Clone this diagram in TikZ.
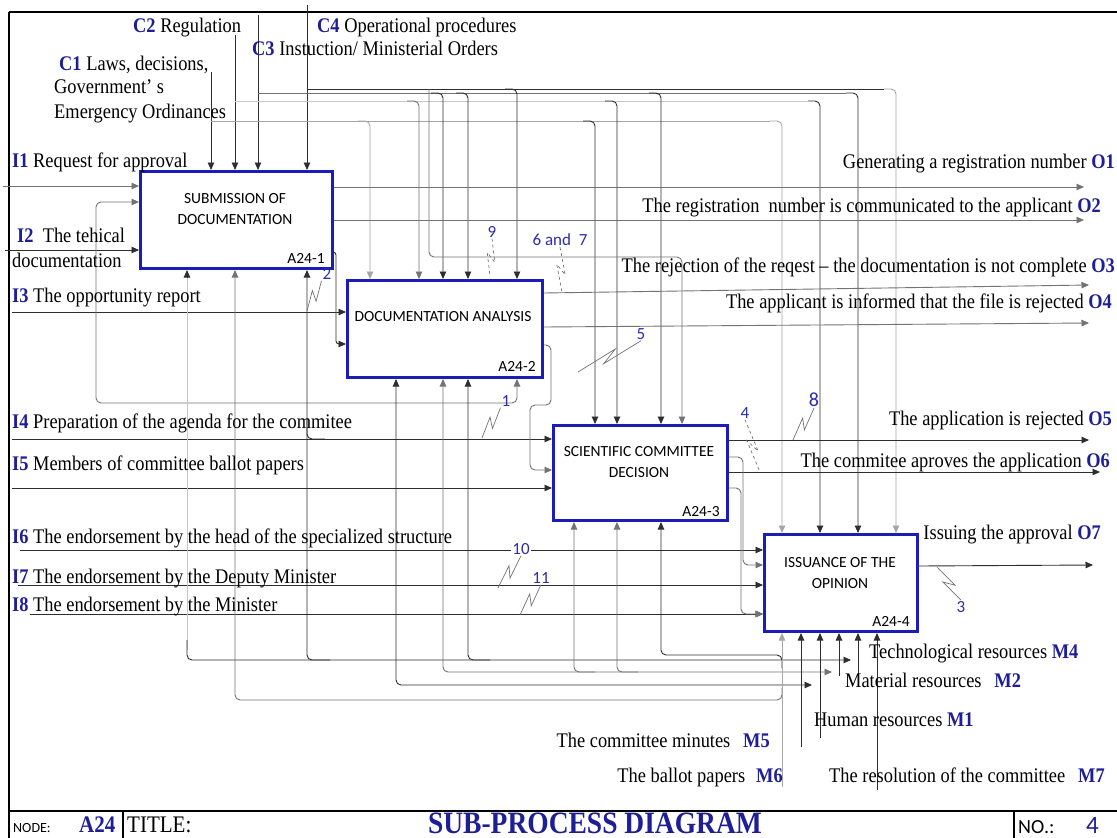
\documentclass[tikz,border=0pt]{standalone}
\usepackage{graphicx}
\usepackage{fontspec}
\setmainfont{Liberation Serif}
\newfontfamily\carl{Carlito}
\usetikzlibrary{arrows.meta,calc}
\definecolor{idefblue}{RGB}{30,30,150}
\definecolor{boxblue}{RGB}{28,28,185}
\definecolor{numblue}{RGB}{45,45,170}
\newcommand{\bl}[1]{\textbf{\textcolor{idefblue}{#1}}}
\newcommand{\tx}[1]{\scalebox{1}[1.13]{#1}}
\newcommand{\zig}[3][]{\draw[sq,#1] (#2) -- ($(#2)!0.62!(#3)!4pt!90:(#3)$) -- ($(#2)!0.38!(#3)!4pt!-90:(#3)$) -- (#3);}
\begin{document}
\begin{tikzpicture}[x=1pt,y=-1pt,
  >={Triangle[length=7.5pt,width=6.5pt]},
  conn/.style={draw=black!82,line width=0.9pt},
  mid/.style={draw=black!55,line width=0.9pt},
  faint/.style={draw=black!35,line width=0.9pt},
  vfaint/.style={draw=black!22,line width=0.9pt},
  rc/.style={rounded corners=5pt},
  box/.style={draw=boxblue,line width=3pt,fill=white,anchor=north west,inner sep=0pt},
  bt/.style={font=\carl\fontsize{15.5}{20.5}\selectfont,align=center,inner sep=0pt},
  lab/.style={font=\fontsize{18.4}{22}\selectfont,inner sep=0pt,anchor=base west},
  labE/.style={lab,anchor=base east},
  num/.style={font=\carl\fontsize{17}{19}\selectfont,text=numblue,inner sep=1pt},
  sq/.style={draw=black!55,line width=0.7pt},
  frame/.style={draw=black,line width=1.2pt}]
\useasboundingbox (0,0) rectangle (1117,838);
\fill[white] (0,0) rectangle (1117,838);
% frame
\draw[frame] (9,12) -- (1117,12);
\draw[frame] (9,12) -- (9,838);
\draw[frame] (9,811) -- (1117,811);
\draw[frame] (123,811) -- (123,838);
\draw[frame] (1014,811) -- (1014,838);

% boxes
\node[box,minimum width=192pt,minimum height=97pt] (b1) at (139,170) {};
\node[box,minimum width=195pt,minimum height=97pt] (b2) at (346,279) {};
\node[box,minimum width=174pt,minimum height=95pt] (b3) at (552,424) {};
\node[box,minimum width=153pt,minimum height=97pt] (b4) at (763,533) {};
\node[bt] (t1) at (235,209) {SUBMISSION OF\\DOCUMENTATION};
\node[bt] (t2) at (443,317) {DOCUMENTATION ANALYSIS};
\node[bt] (t3) at (639,462) {SCIENTIFIC COMMITTEE\\DECISION};
\node[bt] (t4) at (840,573) {ISSUANCE OF THE\\OPINION};
\node[bt] (a1) at (306,258) {A24-1};
\node[bt] (a2) at (517,366) {A24-2};
\node[bt] (a3) at (701,512) {A24-3};
\node[bt] (a4) at (891,621) {A24-4};

% controls
\draw[conn,->] (211,72) -- (b1.north -| 211,0);
\draw[conn,->] (235,35) -- (b1.north -| 235,0);
\draw[conn,->] (258,15) -- (b1.north -| 258,0);
\draw[conn,->] (307,5) -- (b1.north -| 307,0);
\draw[faint] (211,121) -- (770,121);
\draw[vfaint] (235,101) -- (808,101);
\draw[mid] (258,93) -- (846,93);
\draw[conn] (307,89) -- (884,89);
\draw[faint,->,rc] (358,121) -| (b2.north -| 370,0);
\draw[conn,->,rc] (583,121) -| (b3.north -| 595,0);
\draw[faint,->,rc] (770,121) -| (b4.north -| 782,0);
\draw[mid,->,rc] (407,101) -| (b2.north -| 419,0);
\draw[conn,->,rc] (605,101) -| (b3.north -| 617,0);
\draw[conn,->,rc] (808,101) -| (b4.north -| 820,0);
\draw[conn,->,rc] (431,93) -| (b2.north -| 443,0);
\draw[conn,->,rc] (456,93) -| (b2.north -| 468,0);
\draw[conn,->,rc] (649,93) -| (b3.north -| 661,0);
\draw[conn,->,rc] (846,93) -| (b4.north -| 858,0);
\draw[conn,->,rc] (505,89) -| (b2.north -| 517,0);
\draw[faint,->,rc] (884,89) -| (b4.north -| 896,0);
\draw[mid,->,rc] (429,89) -- (429,257) -| (b3.north -| 682,0);

% inputs
\draw[mid,->] (3,186) -- (b1.west |- 0,186);
\draw[conn,->] (5,250) -- (b1.west |- 0,250);
\draw[conn,->] (12,312) -- (b2.west |- 0,312);
\draw[conn,->] (12,439) -- (b3.west |- 0,439);
\draw[conn,->] (12,488) -- (b3.west |- 0,488);
\draw[conn,->] (20,550) -- (b4.west |- 0,550);
\draw[conn,->] (18,585) -- (b4.west |- 0,585);
\draw[conn,->] (30,614) -- (b4.west |- 0,614);
\draw[mid,<->,rc] (b1.west |- 0,202) -| (96,403) -| (b2.south -| 517,0);
\draw[conn,rc] (307,420) |- (325,439);

% outputs
\draw[mid,->] (b1.east |- 0,187) -- (1084,187);
\draw[mid,->] (b1.east |- 0,220) -- (1084,220);
\draw[conn,->,rounded corners=3pt] (b1.east |- 0,252) -| (336,330) |- (b2.west |- 0,344);
\draw[mid,->] (b2.east |- 0,293) -- (1089,285);
\draw[mid,->] (b2.east |- 0,327) -- (1089,323);
\draw[mid,->,rc] (b2.east |- 0,345) -| (551,405) -| (530,440) |- (b3.west |- 0,470);
\draw[conn,->] (b3.east |- 0,440) -- (1089,440);
\draw[conn,->] (b3.east |- 0,472) -- (1100,472);
\draw[mid,->,rc] (b3.east |- 0,457) -| (743,530) |- (b4.west |- 0,565);
\draw[mid,->,rc] (b3.east |- 0,488) -| (741,580) |- (b4.west |- 0,614);
\draw[conn,->] (b4.east |- 0,566) -- (1093,565);

% mechanisms
\draw[vfaint] (187,275) -- (187,650);
\draw[conn,<-] (b1.south -| 187,0) -- (187,278);
\draw[conn,->,rc] (187,640) |- (851,660);
\draw[conn,<-,rc] (b1.south -| 307,0) |- (330,660);
\draw[conn,<-,rc] (b2.south -| 468,0) |- (490,660);
\draw[mid,<->,rc] (b2.south -| 443,0) |- (832,672);
\draw[mid,<-,rc] (b3.south -| 574,0) |- (595,672);
\draw[mid,<-,rc] (b3.south -| 617,0) |- (638,672);
\draw[conn,<->,rc] (b2.south -| 396,0) |- (812,685);
\draw[mid,<-,rc] (b1.south -| 235,0) |- (782,700) -- (782,688);
\draw[conn,<-,rc] (b3.south -| 661,0) |- (782,655) -- (782,668);
\draw[faint,<-] (b4.south -| 782,0) -- (782,787);
\draw[conn,<-] (b4.south -| 801,0) -- (801,747);
\draw[conn,<-] (b4.south -| 820,0) -- (820,738);
\draw[conn,<-] (b4.south -| 839,0) -- (839,676);
\draw[conn,<-] (b4.south -| 858,0) -- (858,680);
\draw[conn,<-] (b4.south -| 877,0) -- (877,790);

% texts
\node[lab] (c2) at (133,32) {\tx{\bl{C2} Regulation}};
\node[lab] (c4) at (317,32) {\tx{\bl{C4} Operational procedures}};
\node[lab] (c3) at (252,55) {\tx{\bl{C3} Instuction/ Ministerial Orders}};
\node[lab] (c1a) at (59,70) {\tx{\bl{C1} Laws, decisions,}};
\node[lab] (c1b) at (54,93) {\tx{Government' s}};
\node[lab] (c1c) at (54,118) {\tx{Emergency Ordinances}};
\node[lab] (i1) at (12,167) {\tx{\bl{I1} Request for approval}};
\node[lab] (i2a) at (17,242) {\tx{\bl{I2}\ \ The tehical}};
\node[lab] (i2b) at (12,267) {\tx{documentation}};
\node[lab] (i3) at (12,302) {\tx{\bl{I3} The opportunity report}};
\node[lab] (i4) at (12,428) {\tx{\bl{I4} Preparation of the agenda for the commitee}};
\node[lab] (i5) at (12,470) {\tx{\bl{I5} Members of committee ballot papers}};
\node[lab] (i6) at (12,543) {\tx{\bl{I6} The endorsement by the head of the specialized structure}};
\node[lab] (i7) at (12,583) {\tx{\bl{I7} The endorsement by the Deputy Minister}};
\node[lab] (i8) at (12,611) {\tx{\bl{I8} The endorsement by the Minister}};
\node[labE] (o1) at (1115,168) {\tx{Generating a registration number \bl{O1}}};
\node[labE] (o2) at (1101,212) {\tx{The registration\ \ number is communicated to the applicant \bl{O2}}};
\node[labE] (o3) at (1115,272) {\tx{The rejection of the reqest – the documentation is not complete \bl{O3}}};
\node[labE] (o4) at (1112,308) {\tx{The applicant is informed that the file is rejected \bl{O4}}};
\node[labE] (o5) at (1112,425) {\tx{The application is rejected \bl{O5}}};
\node[labE] (o6) at (1110,467) {\tx{The commitee aproves the application \bl{O6}}};
\node[labE] (o7) at (1101,539) {\tx{Issuing the approval \bl{O7}}};
\node[lab] (m4) at (869,658) {\tx{Technological resources \bl{M4}}};
\node[lab] (m2) at (845,687) {\tx{Material resources\hspace{0.7em}\bl{M2}}};
\node[lab] (m1) at (814,726) {\tx{Human resources \bl{M1}}};
\node[labE] (m5) at (770,747) {\tx{The committee minutes\hspace{0.7em}\bl{M5}}};
\node[labE] (m6) at (783,782) {\tx{The ballot papers\hspace{0.6em}\bl{M6}}};
\node[lab] (m7) at (829,782) {\tx{The resolution of the committee\hspace{0.7em}\bl{M7}}};

% numbers and squiggles
\node[num] (n9) at (492,232) {9};
\node[num] (n67) at (560,240) {6 and\ \ 7};
\node[num] (n2) at (327,274) {2};
\node[num] (n1) at (506,401) {1};
\node[num] (n5) at (641,334) {5};
\node[num] (n4) at (745,413) {4};
\node[num,font=\carl\fontsize{20}{21}\selectfont] (n8) at (814,400) {8};
\node[num,fill=white] (n10) at (521,549) {10};
\node[num] (n11) at (541,578) {11};
\node[num] (n3) at (961,607) {3};
\zig[dashed]{n9.south}{490,276}
\zig[dashed]{n67.south}{562,292}
\zig{n2.south west}{307,311}
\zig{n1.south west}{482,438}
\zig{n5.south}{578,372}
\zig[dashed]{n4.south}{760,472}
\zig{n8.south}{793,440}
\zig{n10.south}{498,588}
\zig{n11.south}{520,615}
\zig{n3.north}{937,567}

% footer
\node[anchor=base west,inner sep=0pt,font=\carl\fontsize{14}{16}\selectfont] (fnode) at (13,832) {NODE:};
\node[anchor=base west,inner sep=0pt,font=\bfseries\fontsize{21}{24}\selectfont,text=idefblue] (fa24) at (79,832) {\tx{A24}};
\node[anchor=base west,inner sep=0pt,font=\fontsize{21}{24}\selectfont] (ftitle) at (127,832) {\tx{TITLE:}};
\node[anchor=base,inner sep=0pt,font=\bfseries\fontsize{27.5}{30}\selectfont,text=idefblue] (fdiag) at (595,833) {\tx{SUB-PROCESS DIAGRAM}};
\node[anchor=base west,inner sep=0pt,font=\carl\fontsize{20}{22}\selectfont] (fno) at (1018,833) {NO.:};
\node[anchor=base west,inner sep=0pt,font=\carl\fontsize{25}{26}\selectfont,text=idefblue] (fnum) at (1086,833) {4};
\end{tikzpicture}
\end{document}
